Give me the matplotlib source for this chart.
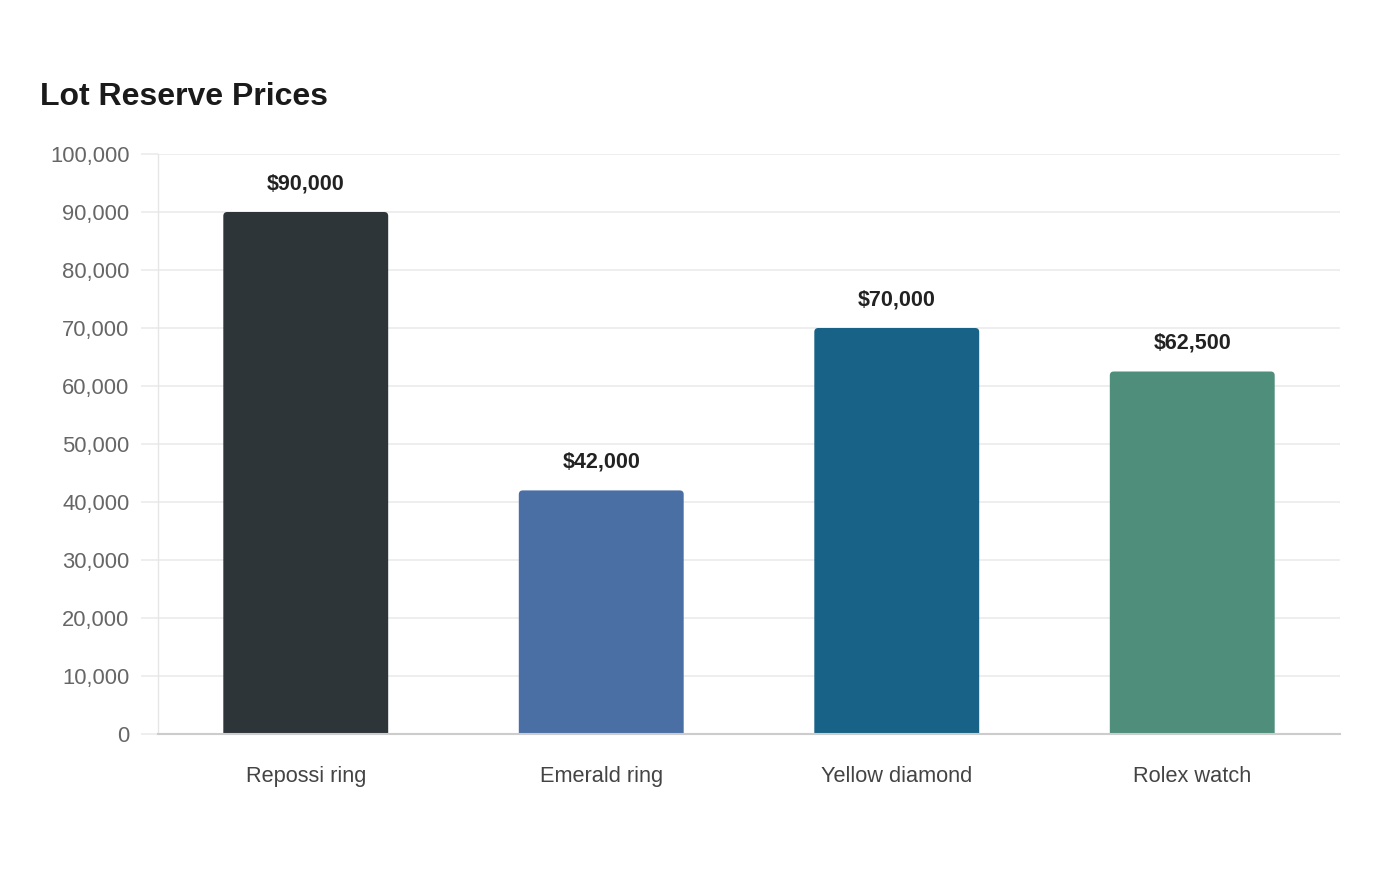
import matplotlib
matplotlib.use("Agg")
import matplotlib.pyplot as plt
from matplotlib.patches import FancyBboxPatch
from matplotlib.ticker import FuncFormatter, MultipleLocator

categories = ["Repossi ring", "Emerald ring", "Yellow diamond", "Rolex watch"]
values = [90000, 42000, 70000, 62500]
labels = ["$90,000", "$42,000", "$70,000", "$62,500"]
colors = ["#2e3538", "#4a6fa5", "#186287", "#4e8e7b"]

plt.rcParams['font.family'] = ['Liberation Sans', 'DejaVu Sans']

fig = plt.figure(figsize=(14, 8.8), dpi=100)
ax = fig.add_axes([158/1400, 1-734/880, (1340-158)/1400, (734-154)/880])

x = list(range(len(categories)))
width = 0.558
ax.set_xlim(-0.5, len(categories)-0.5)
ax.set_ylim(0, 100000)

# radius in px -> data units
px_x = (1340-158) / len(categories)
px_y = (734-154) / 100000
r_px = 4
rx = r_px / px_x
ry = r_px / px_y
for xi, v, c in zip(x, values, colors):
    p = FancyBboxPatch((xi - width/2, -3000), width, v + 3000,
                       boxstyle=f"round,pad=0,rounding_size={rx}",
                       mutation_aspect=ry/rx, facecolor=c, edgecolor="none",
                       clip_on=True, zorder=3)
    p.set_clip_path(ax.patch)
    ax.add_patch(p)

for xi, v, lab in zip(x, values, labels):
    ax.annotate(lab, (xi, v), xytext=(0, 20.5), textcoords="offset points",
                ha="center", va="center", fontsize=15.5, fontweight="bold", color="#222222")

ax.yaxis.set_major_locator(MultipleLocator(10000))
ax.yaxis.set_major_formatter(FuncFormatter(lambda v, p: f"{int(v):,}"))
ax.grid(axis="y", color="#ebebeb", linewidth=1.2, zorder=0)
ax.set_axisbelow(True)
ax.tick_params(axis="y", length=12, color="#ebebeb", width=1.2, labelsize=15.8,
               labelcolor="#666666", pad=8.5)
ax.tick_params(axis="x", length=0, labelsize=15.7, labelcolor="#444444", pad=23)
ax.set_xticks(x)
ax.set_xticklabels(categories)

for s in ["top", "right"]:
    ax.spines[s].set_visible(False)
ax.spines["left"].set_color("#e6e6e6")
ax.spines["left"].set_linewidth(1.0)
ax.spines["bottom"].set_color("#cccccc")
ax.spines["bottom"].set_linewidth(1.5)
ax.spines["bottom"].set_zorder(4)

fig.text(40/1400, 1-97/880, "Lot Reserve Prices", fontsize=23, fontweight="bold",
         color="#1a1a1a", ha="left", va="center")

fig.savefig("out.png", dpi=100, facecolor="white")
